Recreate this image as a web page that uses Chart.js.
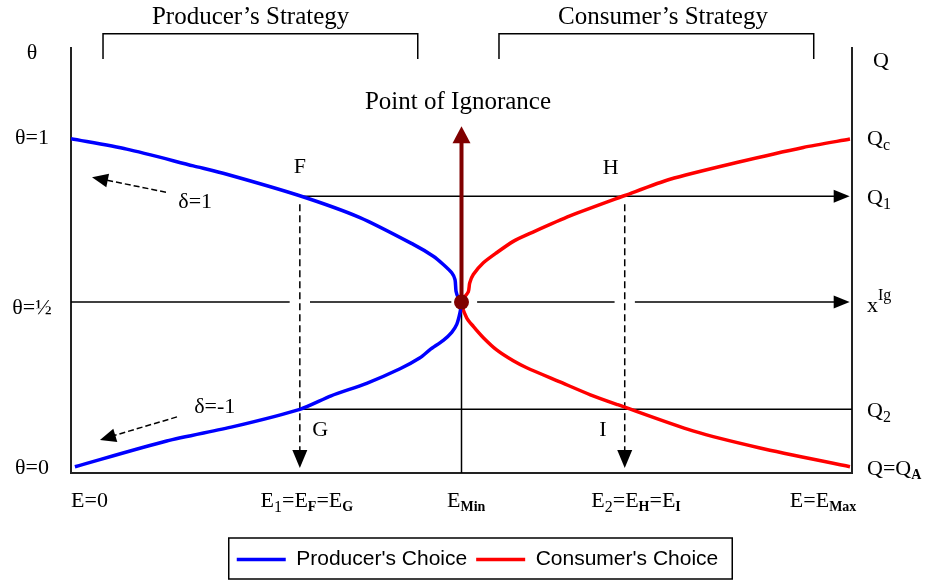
<!DOCTYPE html>
<html>
<head>
<meta charset="utf-8">
<script src="https://cdn.jsdelivr.net/npm/chart.js@4.4.0/dist/chart.umd.min.js"></script>
<style>
html, body { margin: 0; padding: 0; background: #fff; }
canvas { display: block; }
</style>
</head>
<body>
<canvas id="myChart" width="935" height="580"></canvas>
<script>
// curves: E on x (0 .. EMax = 1), theta on y
var producerX = [0.0, 0.0713, 0.1566, 0.1994, 0.291, 0.370, 0.4383, 0.4639, 0.4767, 0.4875, 0.4917, 0.493, 0.4959, 0.5,
                 0.498, 0.4939, 0.4875, 0.4767, 0.4597, 0.4469, 0.4213, 0.3786, 0.333, 0.293, 0.2078, 0.1225, 0.005];
var producerY = [0.995, 0.9635, 0.9128, 0.8875, 0.8237, 0.756, 0.6748, 0.639, 0.614, 0.5888, 0.568, 0.533, 0.513, 0.5,
                 0.467, 0.4325, 0.4085, 0.384, 0.356, 0.331, 0.2979, 0.2538, 0.216, 0.175, 0.1225, 0.079, 0.001];
var consumerX = [0.9974, 0.9377, 0.8524, 0.767, 0.7093, 0.6389, 0.5877, 0.5663, 0.545, 0.528, 0.5151, 0.5105, 0.5087, 0.5,
                 0.5067, 0.5151, 0.528, 0.545, 0.5663, 0.5835, 0.6261, 0.6650, 0.700, 0.7963, 0.8822, 0.9974];
var consumerY = [0.994, 0.9687, 0.923, 0.8723, 0.823, 0.761, 0.708, 0.684, 0.6495, 0.619, 0.5836, 0.558, 0.531, 0.5,
                 0.452, 0.4264, 0.392, 0.355, 0.322, 0.301, 0.258, 0.219, 0.189, 0.1095, 0.0578, 0.001];

// guide levels
var eDrops = [0.293, 0.709];        // E1, E2
var q1 = 0.821, qIg = 0.5, q2 = 0.175;
var eMin = 0.5;

// tick labels
var thetaTicks = [1.258, 1, 0.5, 0];
var thetaLabels = ['θ', 'θ=1', 'θ=½', 'θ=0'];
var qTicks = [1.237, 1, 0.821, 0.5, 0.175, 0];
var qLabels = [[['Q', '']], [['Q', ''], ['c', 'sub']], [['Q', ''], ['1', 'sub']],
               [['x', ''], ['Ig', 'sup']], [['Q', ''], ['2', 'sub']], [['Q=Q', ''], ['A', 'subb']]];
var eTicks = [0.0237, 0.302, 0.506, 0.7235, 0.963];
var eLabels = [[['E=0', '']],
               [['E', ''], ['1', 'sub'], ['=E', ''], ['F', 'subb'], ['=E', ''], ['G', 'subb']],
               [['E', ''], ['Min', 'subb']],
               [['E', ''], ['2', 'sub'], ['=E', ''], ['H', 'subb'], ['=E', ''], ['I', 'subb']],
               [['E=E', ''], ['Max', 'subb']]];

// point letters
var pointNames = ['F', 'H', 'G', 'I'];
var pointX = [0.293, 0.691, 0.319, 0.681];
var pointY = [0.909, 0.906, 0.1125, 0.1125];

var yMin = -0.018, yMax = 1.27;
var serif = '"Liberation Serif", "Times New Roman", serif';

function drawRich(ctx, parts, x, y, align, size) {
    var fonts = { '': size + 'px ' + serif, sub: (size - 6) + 'px ' + serif,
                  subb: 'bold ' + (size - 8) + 'px ' + serif, sup: (size - 6) + 'px ' + serif };
    var shift = { '': 0, sub: size * 0.3, subb: size * 0.3, sup: -size * 0.45 };
    var w = 0;
    parts.forEach(function (p) { ctx.font = fonts[p[1]]; w += ctx.measureText(p[0]).width; });
    var cx = align === 'center' ? x - w / 2 : (align === 'right' ? x - w : x);
    ctx.textAlign = 'left';
    ctx.textBaseline = 'middle';
    parts.forEach(function (p) {
        ctx.font = fonts[p[1]];
        ctx.fillText(p[0], cx, y + shift[p[1]]);
        cx += ctx.measureText(p[0]).width;
    });
}

function arrowHead(ctx, x1, y1, x2, y2, len, half) {
    var a = Math.atan2(y2 - y1, x2 - x1);
    ctx.beginPath();
    ctx.moveTo(x2, y2);
    ctx.lineTo(x2 - len * Math.cos(a) + half * Math.sin(a), y2 - len * Math.sin(a) - half * Math.cos(a));
    ctx.lineTo(x2 - len * Math.cos(a) - half * Math.sin(a), y2 - len * Math.sin(a) + half * Math.cos(a));
    ctx.closePath();
    ctx.fill();
}

function seg(ctx, x1, y1, x2, y2) {
    ctx.beginPath();
    ctx.moveTo(x1, y1);
    ctx.lineTo(x2, y2);
    ctx.stroke();
}

var guides = {
    id: 'guides',
    afterLayout: function (chart) {
        // legend sits a little right of centre in the original
        chart.legend.left += 10;
        chart.legend.right += 10;
    },
    beforeDatasetsDraw: function (chart) {
        var ctx = chart.ctx, sx = chart.scales.x, sy = chart.scales.y;
        var X = function (v) { return sx.getPixelForValue(v); };
        var Y = function (v) { return sy.getPixelForValue(v); };
        ctx.save();
        ctx.strokeStyle = '#000';
        ctx.fillStyle = '#000';
        ctx.lineWidth = 1.5;

        // Q1 line with arrow
        seg(ctx, X(eDrops[0]), Y(q1), X(0.98), Y(q1));
        arrowHead(ctx, X(0.9), Y(q1), X(0.997), Y(q1), 16, 6.5);
        // Q2 line
        seg(ctx, X(eDrops[0]), Y(q2), X(1), Y(q2));
        // middle line with gaps
        var gaps = [[0, eDrops[0] - 0.013], [eDrops[0] + 0.013, eMin - 0.013], [eMin + 0.02, eDrops[1] - 0.013], [eDrops[1] + 0.013, 0.98]];
        gaps.forEach(function (g) { seg(ctx, X(g[0]), Y(qIg), X(g[1]), Y(qIg)); });
        arrowHead(ctx, X(0.9), Y(qIg), X(0.997), Y(qIg), 16, 6.5);
        // vertical line under the point of ignorance
        seg(ctx, X(eMin), Y(qIg), X(eMin), Y(yMin));

        // dashed drops
        ctx.setLineDash([7, 4]);
        eDrops.forEach(function (e) {
            seg(ctx, X(e), Y(q1) + 8, X(e), Y(0.05));
        });
        // delta arrows
        ctx.setLineDash([6, 3]);
        seg(ctx, X(0.1216), Y(0.833), X(0.04), Y(0.872));
        seg(ctx, X(0.1357), Y(0.152), X(0.05), Y(0.092));
        ctx.setLineDash([]);
        eDrops.forEach(function (e) {
            arrowHead(ctx, X(e), Y(0.2), X(e), Y(-0.003), 18, 7.5);
        });
        arrowHead(ctx, X(0.1216), Y(0.833), X(0.0269), Y(0.878), 16, 7);
        arrowHead(ctx, X(0.1357), Y(0.152), X(0.0371), Y(0.082), 16, 7);
        ctx.restore();
    },
    afterDatasetsDraw: function (chart) {
        var ctx = chart.ctx, sx = chart.scales.x, sy = chart.scales.y;
        var X = function (v) { return sx.getPixelForValue(v); };
        var Y = function (v) { return sy.getPixelForValue(v); };
        ctx.save();
        // point of ignorance arrow
        ctx.strokeStyle = '#800000';
        ctx.fillStyle = '#800000';
        ctx.lineWidth = 4;
        seg(ctx, X(eMin), Y(qIg), X(eMin), Y(0.99));
        arrowHead(ctx, X(eMin), Y(0.6), X(eMin), Y(1.033), 17, 9);
        ctx.beginPath();
        ctx.arc(X(eMin), Y(qIg), 7.5, 0, Math.PI * 2);
        ctx.fill();

        // brackets
        ctx.strokeStyle = '#000';
        ctx.fillStyle = '#000';
        ctx.lineWidth = 1.5;
        [[0.041, 0.444], [0.548, 0.951]].forEach(function (b) {
            ctx.beginPath();
            ctx.moveTo(X(b[0]), Y(1.237));
            ctx.lineTo(X(b[0]), Y(1.313));
            ctx.lineTo(X(b[1]), Y(1.313));
            ctx.lineTo(X(b[1]), Y(1.237));
            ctx.stroke();
        });

        ctx.textBaseline = 'middle';
        ctx.textAlign = 'center';
        ctx.font = '25px ' + serif;
        ctx.fillText('Producer\u2019s Strategy', X(0.230), Y(1.362));
        ctx.fillText('Consumer\u2019s Strategy', X(0.758), Y(1.362));
        ctx.fillText('Point of Ignorance', X(0.4955), Y(1.106));

        ctx.font = '22px ' + serif;
        pointNames.forEach(function (n, i) { ctx.fillText(n, X(pointX[i]), Y(pointY[i])); });
        ctx.fillText('δ=1', X(0.159), Y(0.802));
        ctx.fillText('δ=-1', X(0.184), Y(0.182));

        // left labels
        ctx.font = '22px ' + serif;
        thetaLabels.forEach(function (t, i) {
            var off = thetaTicks[i] === 0.5 ? 6 : 1;
            ctx.fillText(t, 32, Y(thetaTicks[i]) + off);
        });
        // right labels
        qLabels.forEach(function (p, i) {
            drawRich(ctx, p, chart.chartArea.right + (i === 0 ? 21 : 15), Y(qTicks[i]) + (i === 3 ? 4 : 2), 'left', 22);
        });
        // bottom labels
        eLabels.forEach(function (p, i) {
            drawRich(ctx, p, X(eTicks[i]), chart.chartArea.bottom + 28, 'center', 22);
        });

        // legend frame
        var hb = chart.legend.legendHitBoxes;
        if (hb && hb.length) {
            var l = Math.min.apply(null, hb.map(function (h) { return h.left; }));
            var r = Math.max.apply(null, hb.map(function (h) { return h.left + h.width; }));
            var t = hb[0].top;
            ctx.lineWidth = 1.5;
            ctx.strokeStyle = '#000';
            ctx.strokeRect(l - 8, t - 11, r - l + 22, hb[0].height + 20);
        }
        ctx.restore();
    }
};

var ctx = document.getElementById('myChart').getContext('2d');
Chart.defaults.color = '#000';

var myChart = new Chart(ctx, {
    type: 'line',
    data: {
        datasets: [{
            label: 'Producer\'s Choice',
            data: producerX.map(function (x, i) { return { x: x, y: producerY[i] }; }),
            borderColor: '#0000ff',
            backgroundColor: '#0000ff',
            borderWidth: 3.5,
            pointRadius: 0,
            pointStyle: 'line',
            tension: 0.25
        }, {
            label: 'Consumer\'s Choice',
            data: consumerX.map(function (x, i) { return { x: x, y: consumerY[i] }; }),
            borderColor: '#ff0000',
            backgroundColor: '#ff0000',
            borderWidth: 3.5,
            pointRadius: 0,
            pointStyle: 'line',
            tension: 0.25
        }]
    },
    options: {
        responsive: false,
        animation: false,
        layout: { padding: { top: 48 } },
        plugins: {
            legend: {
                position: 'bottom',
                labels: {
                    usePointStyle: true,
                    pointStyleWidth: 49,
                    padding: 9,
                    color: '#000',
                    font: { family: '"Liberation Sans", Arial, sans-serif', size: 21 }
                }
            },
            tooltip: { enabled: false }
        },
        scales: {
            x: {
                type: 'linear', min: 0, max: 1,
                grid: { display: false },
                ticks: { display: false },
                border: { display: true, color: '#222', width: 2 },
                afterFit: function (s) { s.height = 67; }
            },
            y: {
                min: yMin, max: yMax, position: 'left',
                grid: { display: false },
                ticks: { display: false },
                border: { display: true, color: '#222', width: 2 },
                afterFit: function (s) { s.width = 71; }
            },
            y2: {
                min: yMin, max: yMax, position: 'right',
                grid: { display: false },
                ticks: { display: false },
                border: { display: true, color: '#222', width: 2 },
                afterFit: function (s) { s.width = 83; }
            }
        }
    },
    plugins: [guides]
});
</script>
</body>
</html>
